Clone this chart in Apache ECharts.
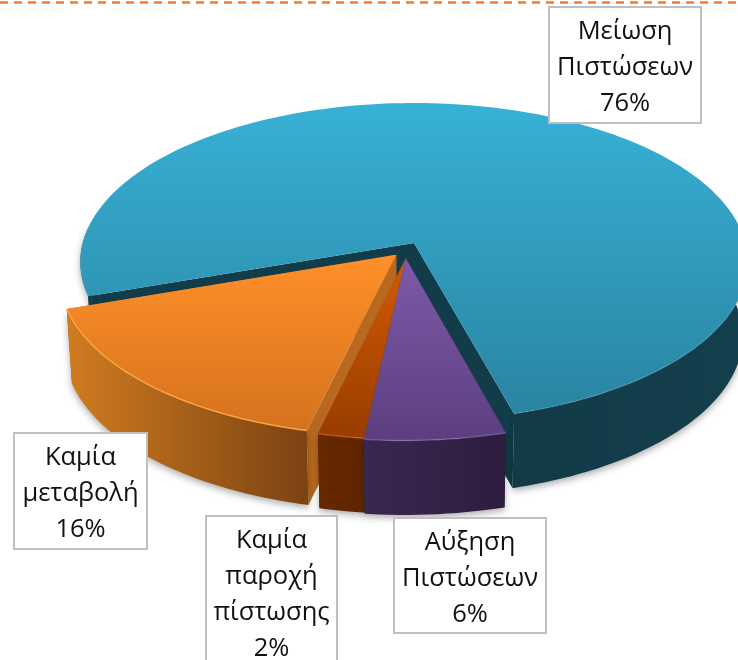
<!DOCTYPE html>
<html>
<head>
<meta charset="utf-8">
<style>html,body{margin:0;padding:0;background:#fff}#c{width:738px;height:660px}</style>
<script src="https://cdn.jsdelivr.net/npm/echarts@6/dist/echarts.min.js"></script>
</head>
<body>
<div id="c"></div>
<script>
// Data
const names = ['Μείωση\nΠιστώσεων', 'Αύξηση\nΠιστώσεων', 'Καμία\nπαροχή\nπίστωσης', 'Καμία\nμεταβολή'];
const values = [76, 6, 2, 16];

// Style and layout
const startAngle = 160.9;
const explode = [[0, 0], [-0.025, 0.095], [-0.023, 0.09], [-0.053, 0.074]];
const drawOrder = [0, 3, 2, 1];
const topColors = [['#37b1d6', '#2a84a1'], ['#7d5aa8', '#5c3f80'], ['#d35c02', '#973c00'], ['#ff9029', '#d5721e']];
const wallColors = [['#123a47', '#143f4d'], ['#3a2750', '#2e1c3f'], ['#662800', '#5f2500'], ['#d07c20', '#7b4212']];
const faceColors = ['#123c49', '#3a2750', '#8b3b00', '#b8681f'];
const rimColors = ['rgba(120,210,235,0.18)', 'rgba(170,130,210,0.4)', 'rgba(240,120,30,0.5)', 'rgba(255,170,70,0.9)'];
const boxes = [[549, 7, 152, 116], [394, 518, 152, 115], [206, 516, 131, 160], [14, 433, 133, 116]];
const geo = { cx: 414, cy: 243, s: 331.3, t: 156.7, k: 0.1195, h: 74.5, shrink: 0.985 };

function project(u, v) {
  const w = 1 - geo.k * v;
  return [geo.cx + geo.s * u / w, geo.cy + geo.t * v / w];
}
function drop(p) {
  return [geo.cx + (p[0] - geo.cx) * geo.shrink, p[1] + geo.h];
}
function rim(a, off) {
  const r = a * Math.PI / 180;
  return project(Math.cos(r) + off[0], Math.sin(r) + off[1]);
}
function arc(a0, a1, off) {
  const pts = [];
  for (let a = a0; a < a1; a += 1.5) pts.push(rim(a, off));
  pts.push(rim(a1, off));
  return pts;
}
function grad(c, horizontal) {
  return new echarts.graphic.LinearGradient(0, 0, horizontal ? 1 : 0, horizontal ? 0 : 1,
    [{ offset: 0, color: c[0] }, { offset: 1, color: c[1] }]);
}
function poly(points, fill, z2, extra) {
  return { type: 'polygon', shape: { points }, style: Object.assign({ fill }, extra || {}), z2, silent: true };
}
function frontRuns(a0, a1) {
  // parts of the outer edge that face the viewer
  const runs = [];
  let cur = null;
  for (let a = a0; a <= a1 + 0.001; a += 1) {
    const s = Math.sin(a * Math.PI / 180);
    if (s > -0.12) { if (!cur) cur = [a, a]; cur[1] = a; }
    else if (cur) { runs.push(cur); cur = null; }
  }
  if (cur) { cur[1] = a1; runs.push(cur); }
  return runs;
}

const total = values.reduce((a, b) => a + b, 0);
const spans = [];
values.reduce((acc, v) => {
  const end = acc + v / total * 360;
  spans.push([acc, end]);
  return end;
}, startAngle);

function renderSlice(params, api) {
  const i = api.value(0);
  const [a0, a1] = spans[i];
  const off = explode[i];
  const base = drawOrder.indexOf(i) * 10 + 1;
  const apex = project(off[0], off[1]);
  const children = [];
  [a0, a1].forEach(a => {
    const p = rim(a, off);
    children.push(poly([apex, p, drop(p), drop(apex)], faceColors[i], base));
  });
  frontRuns(a0, a1).forEach(r => {
    const top = arc(r[0], r[1], off);
    const pts = top.concat(top.slice().reverse().map(drop));
    children.push(poly(pts, grad(wallColors[i], true), base + 1, {
      shadowBlur: 7, shadowColor: 'rgba(0,0,0,0.32)', shadowOffsetY: 3
    }));
    children.push({
      type: 'polyline', shape: { points: top }, z2: base + 3, silent: true,
      style: { fill: null, stroke: rimColors[i], lineWidth: 1.5 }
    });
  });
  const edge = arc(a0, a1, off);
  children.push(poly([apex].concat(edge), grad(topColors[i], false), base + 2));
  return { type: 'group', children };
}

function renderLabel(params, api) {
  const i = api.value(0);
  const b = boxes[i];
  return {
    type: 'group',
    children: [
      { type: 'rect', z2: 100, silent: true, shape: { x: b[0], y: b[1], width: b[2], height: b[3] },
        style: { fill: '#fff', stroke: '#bfbfbf', lineWidth: 2 } },
      { type: 'text', z2: 101, silent: true,
        style: {
          text: names[i] + '\n' + values[i] + '%',
          x: b[0] + b[2] / 2,
          y: b[1] + 7,
          align: 'center', verticalAlign: 'top',
          fontFamily: '"Open Sans", "Noto Sans", sans-serif',
          fontSize: 25.5, lineHeight: 36, fill: '#111'
        } }
    ]
  };
}

const chart = echarts.init(document.getElementById('c'), null, { renderer: 'canvas' });
chart.setOption({
  animation: false,
  backgroundColor: '#fff',
  tooltip: { show: false },
  graphic: [{
    type: 'line', silent: true,
    shape: { x1: 0, y1: 2.5, x2: 738, y2: 2.5 },
    style: { stroke: '#f47a30', lineWidth: 2.5, lineDash: [8, 6] }
  }],
  series: [
    { type: 'custom', coordinateSystem: 'none', silent: true, renderItem: renderSlice, data: values.map((v, i) => [i, v]), z: 2 },
    { type: 'custom', coordinateSystem: 'none', silent: true, renderItem: renderLabel, data: values.map((v, i) => [i, v]), z: 3 }
  ]
});
</script>
</body>
</html>
